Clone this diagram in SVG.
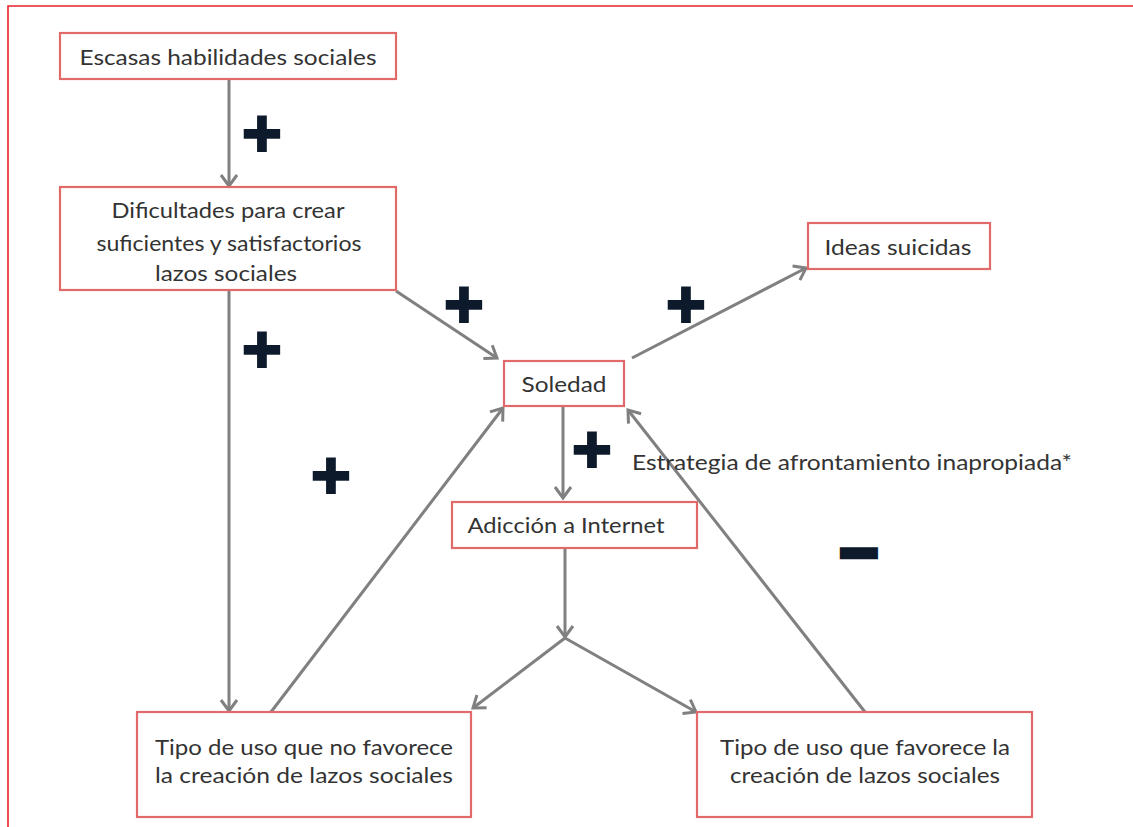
<svg xmlns="http://www.w3.org/2000/svg" width="1133" height="827" viewBox="0 0 1133 827">
<style>
.box{fill:#ffffff;stroke:#e06a6a;stroke-width:2.2}
.t{font-family:Lato,"Liberation Sans",sans-serif;font-size:21px;fill:#333333;text-anchor:middle}
.c{fill:none;stroke:#808080;stroke-width:3;marker-end:url(#ah)}
.sign{font-family:"DejaVu Sans",sans-serif;fill:#0d1a2b;text-anchor:middle;font-size:50px}
.frame{stroke:#e8232a;stroke-width:1.6;fill:none}
</style>
<defs>
<marker id="ah" markerUnits="userSpaceOnUse" markerWidth="20" markerHeight="20" viewBox="0 0 20 20" refX="16" refY="10" orient="auto">
<path d="M5,2 L16,10 L5,18" fill="none" stroke="#808080" stroke-width="3"/>
</marker>
</defs>
<rect width="1133" height="827" fill="#ffffff"/>
<path class="frame" d="M8,827 L8,6 L1133,6"/>

<g id="connectors">
<line class="c" x1="229" y1="79" x2="229" y2="186"/>
<line class="c" x1="229" y1="290" x2="229" y2="711"/>
<line class="c" x1="396" y1="291" x2="497" y2="358"/>
<line class="c" x1="632" y1="358" x2="806" y2="268"/>
<line class="c" x1="563" y1="407" x2="563" y2="498"/>
<line class="c" x1="565" y1="548" x2="565" y2="637"/>
<polyline class="c" points="565,638 473,708"/>
<polyline class="c" points="565,638 696,712"/>
<line class="c" x1="271" y1="712" x2="503" y2="408"/>
<line class="c" x1="865" y1="712" x2="628" y2="410"/>
</g>

<g id="node-escasas">
<rect class="box" x="60" y="33" width="336" height="46"/>
<text class="t" x="228" y="65" textLength="297" lengthAdjust="spacingAndGlyphs">Escasas habilidades sociales</text>
</g>
<g id="node-dificultades">
<rect class="box" x="60" y="187" width="336" height="103"/>
<text class="t" x="228" y="218" textLength="233" lengthAdjust="spacingAndGlyphs">Dificultades para crear</text>
<text class="t" x="229" y="251" textLength="265" lengthAdjust="spacingAndGlyphs">suficientes y satisfactorios</text>
<text class="t" x="226" y="281" textLength="142" lengthAdjust="spacingAndGlyphs">lazos sociales</text>
</g>
<g id="node-ideas">
<rect class="box" x="808" y="223" width="182" height="46"/>
<text class="t" x="898" y="255" textLength="147" lengthAdjust="spacingAndGlyphs">Ideas suicidas</text>
</g>
<g id="node-soledad">
<rect class="box" x="504" y="361" width="120" height="45"/>
<text class="t" x="564" y="392" textLength="85" lengthAdjust="spacingAndGlyphs">Soledad</text>
</g>
<g id="node-adiccion">
<rect class="box" x="452" y="502" width="245" height="46"/>
<text class="t" x="566" y="533" textLength="197" lengthAdjust="spacingAndGlyphs">Adicción a Internet</text>
</g>
<g id="node-no-favorece">
<rect class="box" x="137" y="712" width="334" height="105"/>
<text class="t" x="304" y="755" textLength="298" lengthAdjust="spacingAndGlyphs">Tipo de uso que no favorece</text>
<text class="t" x="304" y="783" textLength="298" lengthAdjust="spacingAndGlyphs">la creación de lazos sociales</text>
</g>
<g id="node-favorece">
<rect class="box" x="697" y="712" width="335" height="105"/>
<text class="t" x="865" y="755" textLength="290" lengthAdjust="spacingAndGlyphs">Tipo de uso que favorece la</text>
<text class="t" x="865" y="783" textLength="270" lengthAdjust="spacingAndGlyphs">creación de lazos sociales</text>
</g>

<g id="labels">
<text class="t" x="852" y="470" textLength="440" lengthAdjust="spacingAndGlyphs">Estrategia de afrontamiento inapropiada*</text>
<text class="sign" x="262" y="152">✚</text>
<text class="sign" x="262" y="368">✚</text>
<text class="sign" x="331" y="494">✚</text>
<text class="sign" x="464" y="323">✚</text>
<text class="sign" x="686" y="323">✚</text>
<text class="sign" x="592" y="468">✚</text>
<text class="sign" x="859" y="568" font-size="44" transform="translate(0,187) scale(1,0.66)">▬</text>
</g>
</svg>
